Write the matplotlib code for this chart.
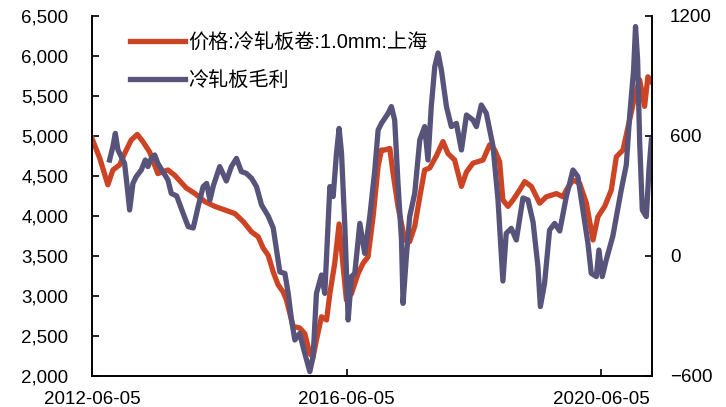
import matplotlib
matplotlib.use("Agg")
import matplotlib.pyplot as plt
import matplotlib.dates as mdates
from matplotlib.ticker import FuncFormatter
import pandas as pd

# 价格:冷轧板卷:1.0mm:上海 (元/吨, 左轴)
price_dates = [
    "2012-06-05", "2012-07-20", "2012-09-04", "2012-10-03", "2012-11-11", "2012-12-09",
    "2013-01-16", "2013-02-20", "2013-03-24", "2013-05-02", "2013-06-18", "2013-08-15",
    "2013-09-22", "2013-11-28", "2014-01-17", "2014-03-15", "2014-05-11", "2014-07-08",
    "2014-09-03", "2014-10-21", "2014-12-08", "2015-01-15", "2015-02-12", "2015-03-13",
    "2015-04-11", "2015-05-09", "2015-06-07", "2015-06-26", "2015-08-03", "2015-09-10",
    "2015-10-09", "2015-11-07", "2015-11-26", "2015-12-15", "2016-01-13", "2016-02-11",
    "2016-03-01", "2016-03-29", "2016-04-23", "2016-05-07", "2016-06-04", "2016-07-03",
    "2016-08-10", "2016-09-08", "2016-10-06", "2016-11-04", "2016-12-03", "2016-12-22",
    "2017-01-10", "2017-02-08", "2017-02-27", "2017-03-27", "2017-05-05", "2017-06-02",
    "2017-07-01", "2017-07-30", "2017-08-27", "2017-09-25", "2017-11-02", "2017-12-10",
    "2018-01-08", "2018-02-15", "2018-03-26", "2018-04-24", "2018-05-31", "2018-06-29",
    "2018-07-28", "2018-09-04", "2018-10-03", "2018-10-31", "2018-11-19", "2018-12-18",
    "2019-01-16", "2019-02-23", "2019-03-24", "2019-05-01", "2019-06-18", "2019-07-26",
    "2019-09-22", "2019-10-29", "2019-11-18", "2019-12-26", "2020-02-02", "2020-03-12",
    "2020-04-19", "2020-05-17", "2020-06-25", "2020-08-02", "2020-08-31", "2020-10-08",
    "2020-11-15", "2020-12-14", "2021-01-12", "2021-02-09", "2021-02-28", "2021-03-20",
]
price = [
    4970, 4720, 4390, 4575, 4640, 4780,
    4950, 5020, 4930, 4800, 4530, 4575,
    4510, 4350, 4280, 4180, 4120, 4075,
    4030, 3930, 3800, 3740, 3600, 3510,
    3300, 3140, 3050, 2950, 2620, 2600,
    2530, 2280, 2240, 2450, 2740, 2700,
    3030, 3410, 3900, 3575, 2950, 3030,
    3280, 3410, 3490, 3990, 4620, 4825,
    4825, 4845, 4530, 4120, 3700, 3680,
    3870, 4240, 4575, 4600, 4750, 4930,
    4780, 4700, 4370, 4550, 4660, 4680,
    4700, 4890, 4825, 4680, 4200, 4120,
    4200, 4325, 4430, 4370, 4160, 4240,
    4280, 4240, 4325, 4450, 4410, 4160,
    3700, 3990, 4120, 4325, 4740, 4825,
    5200, 5490, 5700, 5370, 5740, 5680,
]

# 冷轧板毛利 (元/吨, 右轴)
margin_dates = [
    "2012-09-14", "2012-10-03", "2012-10-17", "2012-11-01", "2012-11-20", "2012-12-09",
    "2012-12-24", "2013-01-07", "2013-01-26", "2013-02-14", "2013-03-15", "2013-04-07",
    "2013-04-22", "2013-05-11", "2013-05-31", "2013-06-18", "2013-07-17", "2013-08-15",
    "2013-09-03", "2013-10-04", "2013-11-10", "2013-12-09", "2014-01-07", "2014-02-05",
    "2014-03-05", "2014-03-25", "2014-04-13", "2014-05-02", "2014-06-08", "2014-07-16",
    "2014-08-14", "2014-09-12", "2014-10-10", "2014-11-08", "2014-12-08", "2015-01-05",
    "2015-02-03", "2015-03-13", "2015-04-11", "2015-04-30", "2015-05-19", "2015-06-17",
    "2015-07-06", "2015-07-25", "2015-08-13", "2015-09-10", "2015-10-09", "2015-11-07",
    "2015-11-26", "2015-12-15", "2016-01-13", "2016-02-01", "2016-03-01", "2016-03-20",
    "2016-04-08", "2016-04-23", "2016-05-07", "2016-05-26", "2016-06-14", "2016-07-03",
    "2016-07-22", "2016-08-20", "2016-09-17", "2016-10-16", "2016-11-14", "2016-12-03",
    "2016-12-22", "2017-01-29", "2017-02-17", "2017-03-08", "2017-03-27", "2017-04-16",
    "2017-04-25", "2017-05-14", "2017-06-02", "2017-07-01", "2017-07-30", "2017-08-27",
    "2017-09-15", "2017-10-04", "2017-10-24", "2017-11-12", "2017-12-01", "2017-12-30",
    "2018-01-27", "2018-02-25", "2018-03-26", "2018-04-24", "2018-05-31", "2018-06-20",
    "2018-07-18", "2018-08-16", "2018-09-23", "2018-10-22", "2018-11-19", "2018-12-08",
    "2019-01-06", "2019-02-04", "2019-03-14", "2019-04-12", "2019-05-11", "2019-06-08",
    "2019-06-22", "2019-07-16", "2019-08-14", "2019-09-12", "2019-10-11", "2019-11-18",
    "2019-12-26", "2020-01-23", "2020-02-21", "2020-03-21", "2020-04-09", "2020-05-08",
    "2020-05-23", "2020-06-11", "2020-07-04", "2020-08-11", "2020-09-28", "2020-10-27",
    "2020-11-15", "2020-12-08", "2020-12-19", "2020-12-31", "2021-01-12", "2021-01-27",
    "2021-02-19", "2021-03-06", "2021-03-20",
]
margin = [
    480, 547, 613, 530, 497, 463,
    347, 230, 363, 397, 430, 480,
    447, 488, 505, 463, 422, 380,
    313, 300, 213, 147, 140, 250,
    347, 363, 280, 350, 447, 375,
    447, 488, 422, 413, 388, 347,
    255, 200, 140, 30, -80, -87,
    -187, -320, -420, -387, -487, -578,
    -503, -187, -95, -187, 347, 297,
    513, 638, 513, 147, -320, -103,
    -87, 163, 13, 197, 430, 630,
    663, 713, 747, 680, 363, 80,
    -237, -3, 197, 313, 580, 647,
    480, 747, 947, 1015, 930, 747,
    647, 663, 530, 705, 680, 647,
    755, 713, 550, 280, -125, 113,
    138, 80, 290, 280, 170, -53,
    -253, -137, 130, 163, 125, 297,
    430, 397, 230, 63, -87, -103,
    30, -103, -20, 100, 330, 455,
    697, 930, 1147, 980, 563, 230,
    197, 430, 580,
]

x_ticks = ["2012-06-05", "2016-06-05", "2020-06-05"]

ORANGE = "#CC4424"
PURPLE = "#57537A"
tick_font = "Liberation Sans"
cjk_font = ["Liberation Sans", "Noto Sans CJK SC", "DejaVu Sans"]

fig = plt.figure(figsize=(7.26, 4.07), dpi=100)
ax = fig.add_axes([0.1267, 0.0762, 0.771, 0.8845])
ax2 = ax.twinx()

p_line, = ax.plot(pd.to_datetime(price_dates), price, color=ORANGE, lw=3.8,
                  solid_joinstyle="round", label="价格:冷轧板卷:1.0mm:上海")
m_line, = ax2.plot(pd.to_datetime(margin_dates), margin, color=PURPLE, lw=3.8,
                   solid_joinstyle="round", label="冷轧板毛利")

ax.set_xlim(pd.Timestamp("2012-06-05"), pd.Timestamp("2021-03-22"))
ax.set_ylim(2000, 6500)
ax.set_yticks(range(2000, 6501, 500))
ax.yaxis.set_major_formatter(FuncFormatter(lambda v, _: f"{int(v):,}"))
ax2.set_ylim(-600, 1200)
ax2.set_yticks([-600, 0, 600, 1200])

ax.set_xticks(pd.to_datetime(x_ticks))
ax.xaxis.set_major_formatter(mdates.DateFormatter("%Y-%m-%d"))

for a in (ax, ax2):
    a.spines["top"].set_visible(False)
    for s in a.spines.values():
        s.set_linewidth(1.2)
ax.tick_params(axis="y", direction="in", length=5, width=1.2, pad=17, labelsize=13.5)
ax.tick_params(axis="x", direction="in", length=5, width=1.2, pad=11, labelsize=13.5)
ax2.tick_params(axis="y", direction="in", length=5, width=1.2, pad=13, labelsize=13.5)
for lbl in ax.get_xticklabels() + ax.get_yticklabels() + ax2.get_yticklabels():
    lbl.set_fontfamily(tick_font)

leg = ax2.legend(handles=[p_line, m_line], loc="upper left",
                 bbox_to_anchor=(0.035, 1.005), frameon=False,
                 prop={"family": cjk_font, "size": 14.5},
                 handlelength=2.75, handletextpad=0.15, labelspacing=0.95)

fig.savefig("out.png", dpi=100)
